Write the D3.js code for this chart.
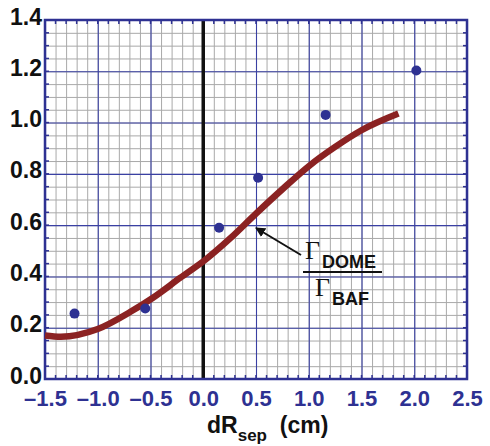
<!DOCTYPE html>
<html>
<head>
    <meta charset="UTF-8">
    <title>Gamma dome / baf vs dRsep</title>
    <script src="https://d3js.org/d3.v7.min.js"></script>
    <style>
        body { margin: 0; background: #fff; }
        svg { display: block; font-family: "Liberation Sans", Arial, sans-serif; }
        .minor line { stroke: #a9a9a9; stroke-width: 1px; }
        .major line { stroke: #3a40a3; stroke-width: 1.1px; }
        .ylab text { font-size: 23px; font-weight: bold; fill: #111; }
        .xlab text { font-size: 22px; font-weight: bold; fill: #2e3192; }
        .fit { fill: none; stroke: #8b2222; stroke-width: 6.5px; }
        .pt { fill: #2e3192; }
    </style>
</head>
<body>
    <div id="chart"></div>
    <script>
        // measured points
        const ptX = [-1.22, -0.55, 0.15, 0.52, 1.16, 2.02];
        const ptY = [0.255, 0.275, 0.59, 0.785, 1.03, 1.203];

        // fitted curve
        const fitX = [-1.5, -1.35, -1.0, -0.69, -0.48, -0.22, 0.02, 0.26, 0.5, 0.75, 1.0, 1.25, 1.5, 1.85];
        const fitY = [0.17, 0.165, 0.195, 0.262, 0.316, 0.394, 0.465, 0.55, 0.645, 0.74, 0.83, 0.905, 0.97, 1.035];

        const xTicks = [-1.5, -1.0, -0.5, 0.0, 0.5, 1.0, 1.5, 2.0, 2.5];
        const yTicks = [0.0, 0.2, 0.4, 0.6, 0.8, 1.0, 1.2, 1.4];

        const width = 490, height = 446;
        const margin = {top: 20, right: 23, bottom: 67, left: 45};
        const w = width - margin.left - margin.right;
        const h = height - margin.top - margin.bottom;

        const x = d3.scaleLinear().domain([-1.5, 2.5]).range([0, w]);
        const y = d3.scaleLinear().domain([0, 1.4]).range([h, 0]);

        const svg = d3.select("#chart")
            .append("svg")
            .attr("width", width)
            .attr("height", height);

        const g = svg.append("g")
            .attr("transform", `translate(${margin.left},${margin.top})`);

        // minor grid
        const xMinor = d3.range(-1.5, 2.501, 0.1);
        const yMinor = d3.range(0, 1.401, 0.05);
        g.append("g").attr("class", "minor")
            .call(d3.axisBottom(x).tickValues(xMinor).tickSize(-h).tickFormat(""))
            .attr("transform", `translate(0,${h})`)
            .call(a => a.select(".domain").remove());
        g.append("g").attr("class", "minor")
            .call(d3.axisLeft(y).tickValues(yMinor).tickSize(-w).tickFormat(""))
            .call(a => a.select(".domain").remove());

        // major grid
        g.append("g").attr("class", "major")
            .attr("transform", `translate(0,${h})`)
            .call(d3.axisBottom(x).tickValues(xTicks).tickSize(-h).tickFormat(""))
            .call(a => a.select(".domain").remove());
        g.append("g").attr("class", "major")
            .call(d3.axisLeft(y).tickValues(yTicks).tickSize(-w).tickFormat(""))
            .call(a => a.select(".domain").remove());

        // small inward ticks on the frame
        const tk = 4;
        const ticks = g.append("g").attr("stroke", "#2e3192").attr("stroke-width", 1.5);
        xMinor.forEach(v => {
            ticks.append("line").attr("x1", x(v)).attr("x2", x(v)).attr("y1", 0).attr("y2", tk);
            ticks.append("line").attr("x1", x(v)).attr("x2", x(v)).attr("y1", h).attr("y2", h - tk);
        });
        yMinor.forEach(v => {
            ticks.append("line").attr("y1", y(v)).attr("y2", y(v)).attr("x1", 0).attr("x2", tk);
            ticks.append("line").attr("y1", y(v)).attr("y2", y(v)).attr("x1", w).attr("x2", w - tk);
        });

        // zero line
        g.append("line")
            .attr("x1", x(0)).attr("x2", x(0))
            .attr("y1", 0).attr("y2", h)
            .attr("stroke", "#111").attr("stroke-width", 3.5);

        // frame
        g.append("rect")
            .attr("width", w).attr("height", h)
            .attr("fill", "none")
            .attr("stroke", "#2e3192").attr("stroke-width", 2.5);

        // tick labels
        const fmt = d => (d < 0 ? "\u2013" : "") + Math.abs(d).toFixed(1);
        g.append("g").attr("class", "ylab")
            .call(d3.axisLeft(y).tickValues(yTicks).tickSize(0).tickPadding(3).tickFormat(fmt))
            .call(a => a.select(".domain").remove())
            .selectAll("text").attr("dy", "0.18em");
        g.append("g").attr("class", "xlab")
            .attr("transform", `translate(0,${h})`)
            .call(d3.axisBottom(x).tickValues(xTicks).tickSize(0).tickPadding(11).tickFormat(fmt))
            .call(a => a.select(".domain").remove());
        g.selectAll(".ylab text, .xlab text").attr("font-family", null);

        // fit curve
        const fitData = fitX.map((v, i) => [v, fitY[i]]);
        g.append("path")
            .datum(fitData)
            .attr("class", "fit")
            .attr("d", d3.line().x(d => x(d[0])).y(d => y(d[1])).curve(d3.curveMonotoneX));

        // points
        g.selectAll(".pt")
            .data(ptX.map((v, i) => [v, ptY[i]]))
            .join("circle")
            .attr("class", "pt")
            .attr("cx", d => x(d[0]))
            .attr("cy", d => y(d[1]))
            .attr("r", 5);

        // annotation arrow
        svg.append("defs").append("marker")
            .attr("id", "head")
            .attr("viewBox", "0 0 10 10")
            .attr("refX", 9).attr("refY", 5)
            .attr("markerWidth", 5).attr("markerHeight", 5)
            .attr("orient", "auto")
            .append("path").attr("d", "M0,0L10,5L0,10z").attr("fill", "#111");
        svg.append("line")
            .attr("x1", 301).attr("y1", 255)
            .attr("x2", 256).attr("y2", 228)
            .attr("stroke", "#111").attr("stroke-width", 2)
            .attr("marker-end", "url(#head)");

        const lab = svg.append("g").attr("fill", "#111");
        lab.append("text").attr("x", 305).attr("y", 259)
            .attr("font-family", "'Liberation Serif', 'DejaVu Serif', serif").attr("font-size", 26).text("\u0393");
        lab.append("text").attr("x", 322).attr("y", 268)
            .attr("font-size", 18).attr("font-weight", "bold").text("DOME");
        lab.append("line").attr("x1", 303).attr("x2", 382).attr("y1", 272).attr("y2", 272)
            .attr("stroke", "#111").attr("stroke-width", 2);
        lab.append("text").attr("x", 315).attr("y", 296)
            .attr("font-family", "'Liberation Serif', 'DejaVu Serif', serif").attr("font-size", 26).text("\u0393");
        lab.append("text").attr("x", 332).attr("y", 305)
            .attr("font-size", 18).attr("font-weight", "bold").text("BAF");

        // x title
        const xt = svg.append("text")
            .attr("x", 207).attr("y", 433)
            .attr("font-size", 23).attr("font-weight", "bold").attr("fill", "#111");
        xt.append("tspan").text("dR");
        xt.append("tspan").attr("font-size", 17).attr("dy", 8).text("sep");
        xt.append("tspan").attr("dy", -8).text("\u00a0 (cm)");
    </script>
</body>
</html>
